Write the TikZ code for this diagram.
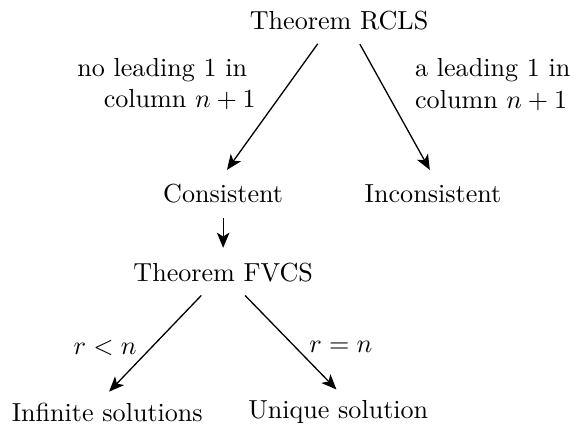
\documentclass[tikz,border=0pt]{standalone}
\usepackage{tikz}
\usetikzlibrary{arrows.meta,positioning}

\begin{document}
\begin{tikzpicture}[
  result/.style={inner sep=3.33pt,on grid},
  arrow/.style={-{Stealth[length=5.8pt,width=4.8pt,inset=1.5pt]},line width=0.5pt,shorten <=2pt,shorten >=2.5pt},
  case/.style={inner sep=3.33pt}
]
\useasboundingbox (0,0) rectangle (220.3pt,-162.8pt);
\node[result] (rcls) at (129.9pt,-8pt) {Theorem RCLS};
\node[result,below left=66.3pt and 44.4pt of rcls] (cons) {Consistent};
\node[result,below right=66.3pt and 36pt of rcls] (incons) {Inconsistent};
\node[result,below=30.3pt of cons] (fvcs) {Theorem FVCS};
\node[result,below left=53.3pt and 44.4pt of fvcs] (infinite) {Infinite solutions};
\node[result,below right=53.3pt and 44.1pt of fvcs] (unique) {Unique solution};

\draw[arrow] ([xshift=-7pt]rcls.south) -- node[case,pos=0.33,left=9pt,align=right]{no leading 1 in\hspace*{0.333em}\\column $n+1$} (cons.north);
\draw[arrow] ([xshift=7pt]rcls.south) -- node[case,pos=0.33,right=9pt,align=left]{a leading 1 in\\column $n+1$} (incons.north);
\draw[arrow] (cons) -- (fvcs);
\draw[arrow,shorten >=1pt] ([xshift=-7pt]fvcs.south) -- node[case,pos=0.55,left=2pt]{$r<n$} (infinite.north);
\draw[arrow,shorten >=1pt] ([xshift=7pt]fvcs.south) -- node[case,pos=0.55,right=2pt]{$r=n$} (unique.north);
\end{tikzpicture}
\end{document}
